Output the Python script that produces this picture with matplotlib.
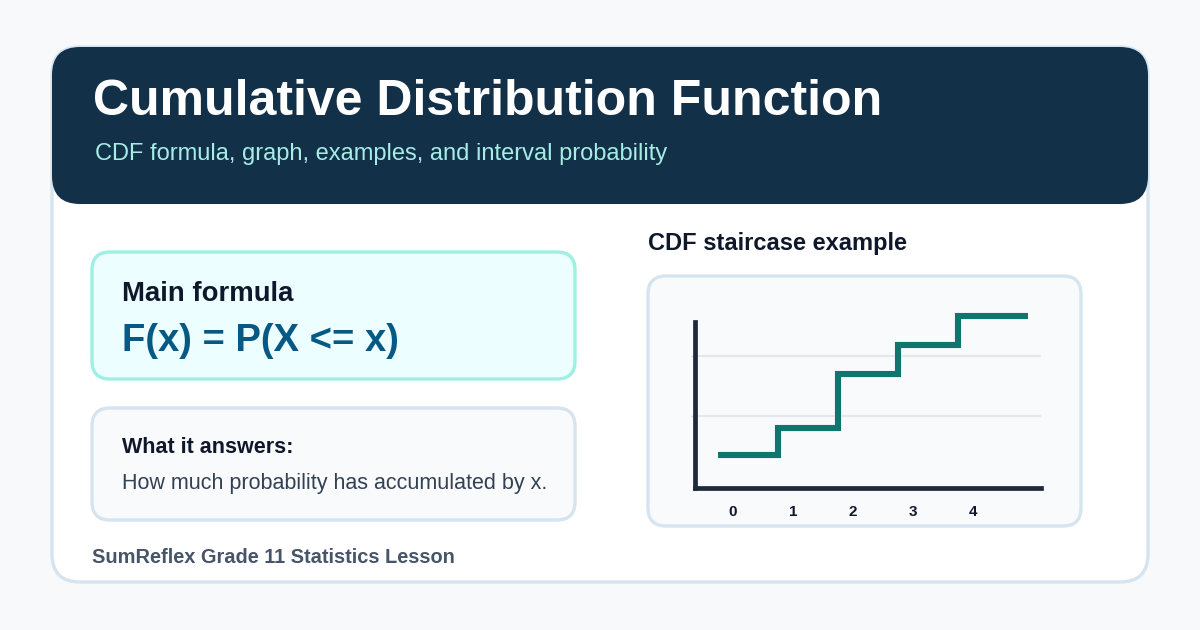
import matplotlib
matplotlib.use('Agg')
import matplotlib.pyplot as plt
from matplotlib.patches import FancyBboxPatch

plt.rcParams['font.family'] = ['Liberation Sans', 'DejaVu Sans']

# --- content ---
TITLE = 'Cumulative Distribution Function'
SUBTITLE = 'CDF formula, graph, examples, and interval probability'
FORMULA_HEAD = 'Main formula'
FORMULA = 'F(x) = P(X <= x)'
ANSWER_HEAD = 'What it answers:'
ANSWER_TEXT = 'How much probability has accumulated by x.'
FOOTER = 'SumReflex Grade 11 Statistics Lesson'
CHART_TITLE = 'CDF staircase example'

# staircase data (top step scaled to 1)
step_x = [0, 1, 2, 3, 4]
step_end = 5.17
cdf_levels = [0.19, 0.35, 0.66, 0.83, 1.0]
grid_levels = [0.42, 0.77]
tick_labels = ['0', '1', '2', '3', '4']

BG = '#f7f9fb'
NAVY = '#133049'
BORDER = '#d6e4f0'
DARK = '#0f172a'
TEAL = '#0f766e'

fig = plt.figure(figsize=(12, 6.3), dpi=100)
fig.patch.set_facecolor(BG)
ax = fig.add_axes([0, 0, 1, 1])
ax.set_xlim(0, 1200)
ax.set_ylim(630, 0)
ax.axis('off')


def rbox(x, y, w, h, r, fc, ec='none', lw=0, z=1):
    p = FancyBboxPatch((x, y), w, h, boxstyle=f'round,pad=0,rounding_size={r}',
                       fc=fc, ec=ec, lw=lw, zorder=z)
    ax.add_patch(p)


def label(x, y, s, size, color, bold=False):
    ax.text(x, y, s, color=color, fontsize=size, fontweight='bold' if bold else 'normal',
            va='baseline', ha='left', zorder=3)


# card + header
rbox(52, 47, 1096, 535, 28, 'white', BORDER, 2.4, 1)
rbox(52, 47, 1096, 157, 28, NAVY, 'none', 0, 2)
label(93, 115, TITLE, 36, 'white', True)
label(95, 160, SUBTITLE, 17, '#a7ede6')

# left boxes
rbox(92, 252, 483, 127, 18, '#ecfeff', '#9ef0e2', 2.4, 2)
label(122, 301, FORMULA_HEAD, 19.8, DARK, True)
label(122, 351, FORMULA, 27.5, '#075985', True)

rbox(92, 408, 483, 112, 18, '#f8fafc', BORDER, 2.4, 2)
label(122, 453, ANSWER_HEAD, 15.5, DARK, True)
label(122, 489, ANSWER_TEXT, 15.5, '#334155')

label(92, 563, FOOTER, 14.4, '#475569', True)

# right chart
label(648, 250, CHART_TITLE, 17, DARK, True)
rbox(648, 276, 433, 250, 18, '#f8fafc', BORDER, 2.4, 2)

W, H = 1200, 630
left, right, bottom, top = 695, 1041, 488, 316
cax = fig.add_axes([left / W, 1 - bottom / H, (right - left) / W, (bottom - top) / H])
cax.set_facecolor('none')
cax.set_xlim((left - 718) / 60, (right - 718) / 60)
cax.set_ylim(0, 1.0)
for g in grid_levels:
    cax.axhline(g, color='#e2e8f0', lw=1.5, zorder=1)
cax.plot(step_x + [step_end], cdf_levels + [cdf_levels[-1]], drawstyle='steps-post',
         color=TEAL, lw=4.4, solid_joinstyle='miter', solid_capstyle='butt',
         clip_on=False, zorder=3)
for s in ['top', 'right']:
    cax.spines[s].set_visible(False)
for s in ['left', 'bottom']:
    cax.spines[s].set_color('#1e293b')
    cax.spines[s].set_linewidth(3.4)
cax.spines['left'].set_bounds(0, 0.965)
cax.set_yticks(grid_levels)
cax.set_yticklabels([])
cax.tick_params(axis='y', length=3, width=1, color='#cbd5e1')
cax.set_xticks([x + 0.25 for x in step_x])
cax.set_xticklabels(tick_labels, fontsize=11, fontweight='bold', color=DARK)
cax.tick_params(axis='x', length=0, pad=12)

fig.savefig('out.png', dpi=100, facecolor=BG)
